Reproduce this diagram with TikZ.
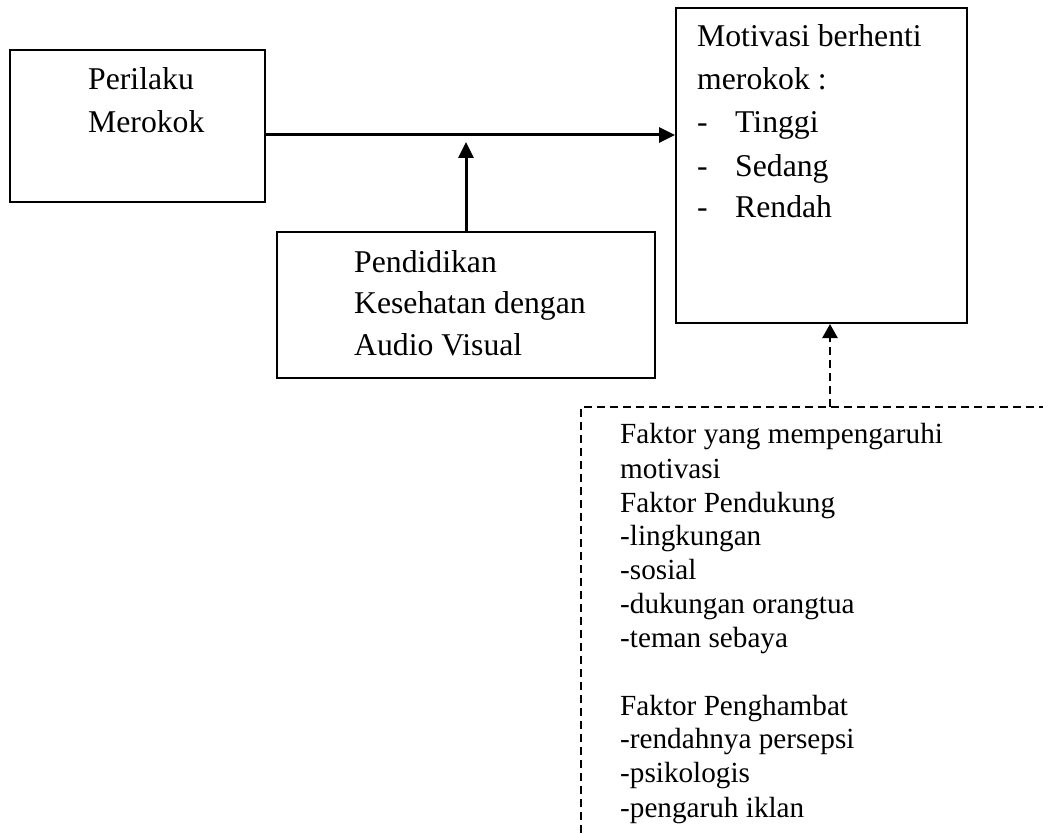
\documentclass[tikz,border=0pt]{standalone}
\usepackage{fontspec}
\setmainfont{Liberation Serif}
\usetikzlibrary{arrows.meta}
\tikzset{
  boxst/.style={draw=black, line width=2pt, rectangle, inner sep=0pt},
  bigtxt/.style={anchor=base west, inner sep=0pt, font=\fontsize{31.7}{38}\selectfont},
  smalltxt/.style={anchor=base west, inner sep=0pt, font=\fontsize{29.2}{35}\selectfont},
  conn/.style={line width=3pt, -{Triangle[length=16pt, width=15pt]}},
  dconn/.style={line width=2.5pt, dash pattern=on 8pt off 5pt, -{Triangle[length=14pt, width=15pt]}},
  dbox/.style={line width=1.6pt, dash pattern=on 8pt off 5pt}
}
\begin{document}
\begin{tikzpicture}[x=1pt, y=-1pt]
\useasboundingbox (0,0) rectangle (1043,834);
\clip (0,0) rectangle (1043,834);
% boxes
\node[boxst, minimum width=255pt, minimum height=152pt] (box1) at (137.5,126) {};
\node[boxst, minimum width=291pt, minimum height=315pt] (box3) at (821.5,165.5) {};
\node[boxst, minimum width=378pt, minimum height=146pt] (box2) at (466,305) {};
% dashed box (extends beyond the page)
\draw[dbox] (1060,407) -- (581,407) -- (581,850);
\coordinate (d) at (830,407);
\coordinate (m) at (466,135);
% texts box1
\node[bigtxt] (p1) at (88,90) {Perilaku};
\node[bigtxt] (p2) at (88,133) {Merokok};
% texts box2
\node[bigtxt] (q1) at (354,272) {Pendidikan};
\node[bigtxt] (q2) at (354,313) {Kesehatan dengan};
\node[bigtxt] (q3) at (354,355) {Audio Visual};
% texts box3
\node[bigtxt] (r1) at (697,47) {Motivasi berhenti};
\node[bigtxt] (r2) at (697,90) {merokok :};
\node[bigtxt] (r3a) at (697,133) {-};
\node[bigtxt] (r3) at (735,133) {Tinggi};
\node[bigtxt] (r4a) at (697,177) {-};
\node[bigtxt] (r4) at (735,177) {Sedang};
\node[bigtxt] (r5a) at (697,218) {-};
\node[bigtxt] (r5) at (735,218) {Rendah};
% texts dashed box
\node[smalltxt] (s1) at (620,443) {Faktor yang mempengaruhi};
\node[smalltxt] (s2) at (620,478) {motivasi};
\node[smalltxt] (s3) at (620,512) {Faktor Pendukung};
\node[smalltxt] (s4) at (620,545) {-lingkungan};
\node[smalltxt] (s5) at (620,579) {-sosial};
\node[smalltxt] (s6) at (620,613) {-dukungan orangtua};
\node[smalltxt] (s7) at (620,647) {-teman sebaya};
\node[smalltxt] (s8) at (620,715) {Faktor Penghambat};
\node[smalltxt] (s9) at (620,748) {-rendahnya persepsi};
\node[smalltxt] (s10) at (620,782) {-psikologis};
\node[smalltxt] (s11) at (620,817) {-pengaruh iklan};
% connectors
\draw[conn] (box1.east |- m) -- (box3.west |- m);
\draw[conn] (box2.north) -- ([yshift=-7pt]m);
\draw[dconn] (d) -- (d |- box3.south);
\end{tikzpicture}
\end{document}
